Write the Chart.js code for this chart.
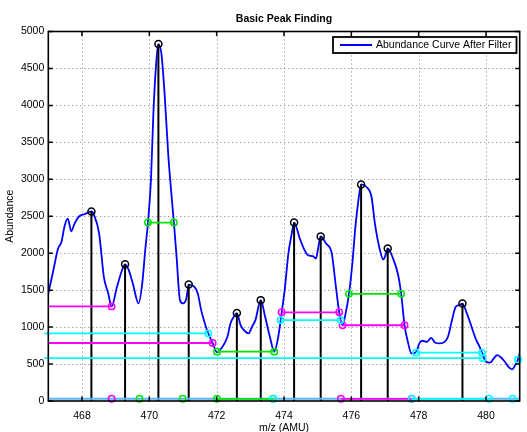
<!DOCTYPE html>
<html>
<head>
<meta charset="utf-8">
<title>Basic Peak Finding</title>
<script src="https://cdn.jsdelivr.net/npm/chart.js@4.4.1/dist/chart.umd.min.js"></script>
<style>
  html, body { margin: 0; padding: 0; background: #ffffff; }
  canvas { display: block; }
</style>
</head>
<body>
<canvas id="chart" width="527" height="432"></canvas>
<script>
// Filtered abundance curve (m/z in AMU, abundance in counts)
const mz = [
  467.00, 467.15, 467.29, 467.39, 467.49, 467.58, 467.68, 467.78, 467.92, 468.07,
  468.28, 468.36, 468.51, 468.65, 468.78, 468.88, 469.04, 469.19, 469.28, 469.39,
  469.51, 469.68, 469.79, 469.88, 469.96, 470.05, 470.12, 470.21, 470.27, 470.36,
  470.46, 470.56, 470.66, 470.73, 470.81, 470.91, 471.00, 471.10, 471.17, 471.34,
  471.44, 471.54, 471.68, 471.75, 471.88, 472.01, 472.17, 472.32, 472.41, 472.51,
  472.60, 472.71, 472.86, 472.95, 473.05, 473.15, 473.31, 473.44, 473.58, 473.71,
  473.83, 473.93, 474.02, 474.13, 474.23, 474.30, 474.47, 474.61, 474.71, 474.86,
  474.95, 475.02, 475.09, 475.25, 475.42, 475.53, 475.64, 475.74, 475.83, 475.93,
  476.03, 476.12, 476.21, 476.29, 476.45, 476.60, 476.70, 476.85, 476.95, 477.03,
  477.08, 477.22, 477.38, 477.48, 477.58, 477.69, 477.78, 477.92, 478.02, 478.11,
  478.25, 478.37, 478.49, 478.63, 478.77, 478.87, 478.99, 479.10, 479.20, 479.30,
  479.43, 479.57, 479.71, 479.81, 479.88, 480.00, 480.12, 480.23, 480.33, 480.42,
  480.56, 480.66, 480.77, 480.86, 480.93, 481.02
];
const abundance = [
  1455, 1770, 2063, 2153, 2378, 2468, 2297, 2401, 2500, 2527,
  2565, 2514, 2266, 1680, 1455, 1280, 1545, 1770, 1850, 1770,
  1590, 1320, 1590, 2050, 2415, 3000, 3887, 4608, 4830, 4698,
  4112, 3350, 2780, 2415, 1950, 1365, 1320, 1388, 1575, 1545,
  1455, 1230, 1005, 915, 785, 660, 734, 869, 1050, 1140,
  1190, 1027, 937, 915, 1005, 1095, 1365, 1140, 869, 670,
  869, 1195, 1500, 1995, 2266, 2415, 2198, 2041, 1973, 1959,
  1928, 2085, 2226, 2131, 1995, 1590, 1200, 1025, 1185, 1450,
  1861, 2355, 2716, 2930, 2896, 2761, 2401, 2041, 1915, 1995,
  2064, 1950, 1725, 1450, 1025, 780, 645, 660, 780, 815,
  801, 855, 788, 780, 801, 869, 1095, 1275, 1297, 1319,
  1185, 1005, 824, 734, 655, 531, 518, 577, 622, 599,
  531, 464, 428, 480, 540, 680
];

// Detected peaks
const peakMz = [468.28, 469.28, 470.27, 471.17, 472.60, 473.31, 474.30, 475.09, 476.29, 477.08, 479.30];
const peakAbundance = [2565, 1850, 4830, 1575, 1190, 1365, 2415, 2226, 2930, 2064, 1319];

// Peak width segments: [left m/z, right m/z, height]
const greenWidths = [[469.96, 470.73, 2415], [472.01, 473.71, 668], [475.93, 477.48, 1450]];
const magentaWidths = [[466.5, 468.88, 1280], [466.5, 471.88, 785], [473.93, 475.64, 1200], [475.74, 477.58, 1025]];
const cyanWidths = [[466.5, 471.75, 915], [466.5, 479.90, 580], [473.90, 475.68, 1095], [477.92, 479.88, 655], [480.95, 480.95, 560]];

// Valley markers along the base line: each group is joined by a line
const baselineLevel = 30;
const greenBase = [[469.71], [470.99], [472.01, 473.68]];
const magentaBase = [[468.88], [475.69, 477.79]];
const cyanBase = [[473.68], [477.79, 480.09], [480.79]];

// Axis ticks
const xTicks = [468, 470, 472, 474, 476, 478, 480];
const yTicks = [0, 500, 1000, 1500, 2000, 2500, 3000, 3500, 4000, 4500, 5000];

const FONT = "'Liberation Sans', Arial, Helvetica, sans-serif";
const BLUE = '#0000ff', GREEN = '#00e600', MAGENTA = '#ff00ff', CYAN = '#00ffff', BASE_BLUE = '#55b4ff';

function widthPoints(segments) {
  const pts = [];
  segments.forEach(([x1, x2, y]) => {
    pts.push({ x: x1, y: y }, { x: x2, y: y }, { x: x2, y: null });
  });
  return pts;
}
function basePoints(groups) {
  const pts = [];
  groups.forEach(g => {
    g.forEach(x => pts.push({ x: x, y: baselineLevel }));
    pts.push({ x: g[g.length - 1], y: null });
  });
  return pts;
}

const markerStyle = (color) => ({
  borderColor: color,
  backgroundColor: 'rgba(0,0,0,0)',
  pointBorderColor: color,
  pointBackgroundColor: 'rgba(0,0,0,0)',
  pointRadius: 3.2,
  pointBorderWidth: 1.5,
  borderWidth: 1.8,
  showLine: true,
  spanGaps: false
});

// Dotted grid, boxed frame with inward ticks, and the legend box
const axesFrame = {
  id: 'axesFrame',
  beforeDatasetsDraw(chart) {
    const { ctx, chartArea: a, scales: { x, y } } = chart;
    ctx.save();
    ctx.strokeStyle = 'rgba(0,0,0,0.5)';
    ctx.lineWidth = 1;
    ctx.setLineDash([1, 3]);
    ctx.beginPath();
    xTicks.forEach(v => {
      const p = Math.round(x.getPixelForValue(v)) + 0.5;
      ctx.moveTo(p, a.top); ctx.lineTo(p, a.bottom);
    });
    yTicks.forEach(v => {
      if (v === y.min || v === y.max) return;
      const p = Math.round(y.getPixelForValue(v)) + 0.5;
      ctx.moveTo(a.left, p); ctx.lineTo(a.right, p);
    });
    ctx.stroke();
    ctx.restore();
  },
  afterDatasetsDraw(chart) {
    const { ctx, chartArea: a, scales: { x, y } } = chart;
    const len = 4.5;
    ctx.save();
    ctx.strokeStyle = '#000';
    ctx.lineWidth = 1.5;
    ctx.beginPath();
    xTicks.forEach(v => {
      const p = x.getPixelForValue(v);
      ctx.moveTo(p, a.bottom); ctx.lineTo(p, a.bottom - len);
      ctx.moveTo(p, a.top); ctx.lineTo(p, a.top + len);
    });
    yTicks.forEach(v => {
      const p = y.getPixelForValue(v);
      ctx.moveTo(a.left, p); ctx.lineTo(a.left + len, p);
      ctx.moveTo(a.right, p); ctx.lineTo(a.right - len, p);
    });
    ctx.stroke();
    ctx.lineWidth = 1.6;
    ctx.strokeRect(a.left, a.top, a.right - a.left, a.bottom - a.top);
    ctx.restore();
  },
  afterDraw(chart) {
    const { ctx, chartArea: a } = chart;
    const ds = chart.data.datasets.find(d => d.legend);
    const boxRight = a.right - 3.2, boxLeft = boxRight - 183.5;
    const boxTop = a.top + 5.5, boxH = 16;
    ctx.save();
    ctx.fillStyle = '#fff';
    ctx.fillRect(boxLeft, boxTop, boxRight - boxLeft, boxH);
    ctx.strokeStyle = '#000';
    ctx.lineWidth = 1.8;
    ctx.strokeRect(boxLeft, boxTop, boxRight - boxLeft, boxH);
    const cy = boxTop + boxH / 2;
    ctx.strokeStyle = ds.borderColor;
    ctx.lineWidth = 2;
    ctx.beginPath();
    ctx.moveTo(boxLeft + 7, cy); ctx.lineTo(boxLeft + 39, cy);
    ctx.stroke();
    ctx.fillStyle = '#000';
    ctx.font = '10.5px ' + FONT;
    ctx.textBaseline = 'middle';
    ctx.textAlign = 'left';
    ctx.fillText(ds.label, boxLeft + 43, cy + 0.5);
    ctx.restore();
  }
};

new Chart(document.getElementById('chart'), {
  type: 'scatter',
  data: {
    datasets: [
      Object.assign({}, markerStyle(CYAN), { label: 'cyan widths', data: widthPoints(cyanWidths), order: 1, clip: 4 }),
      Object.assign({}, markerStyle(CYAN), { label: 'cyan valleys', data: basePoints(cyanBase), order: 1, clip: 6 }),
      Object.assign({}, markerStyle(MAGENTA), { label: 'magenta widths', data: widthPoints(magentaWidths), order: 2 }),
      Object.assign({}, markerStyle(MAGENTA), { label: 'magenta valleys', data: basePoints(magentaBase), order: 2, clip: 6 }),
      Object.assign({}, markerStyle(GREEN), { label: 'green widths', data: widthPoints(greenWidths), order: 3 }),
      Object.assign({}, markerStyle(GREEN), { label: 'green valleys', data: basePoints(greenBase), order: 3, clip: 6 }),
      {
        label: 'base line',
        data: [{ x: 467, y: baselineLevel }, { x: 481, y: baselineLevel }],
        borderColor: BASE_BLUE, borderWidth: 2, pointRadius: 0, showLine: true, order: 4
      },
      {
        label: 'peaks',
        data: peakMz.map((x, i) => ({ x: x, y: peakAbundance[i] })),
        pointRadius: 3.5, pointBorderWidth: 1.5, pointBorderColor: '#000',
        pointBackgroundColor: 'rgba(0,0,0,0)', showLine: false, order: 5
      },
      {
        label: 'stems',
        data: peakMz.flatMap((x, i) => [{ x: x, y: 0 }, { x: x, y: peakAbundance[i] }, { x: x, y: null }]),
        borderColor: '#000', borderWidth: 2, pointRadius: 0, showLine: true, spanGaps: false, order: 6
      },
      {
        label: 'Abundance Curve After Filter',
        legend: true,
        data: mz.map((x, i) => ({ x: x, y: abundance[i] })),
        borderColor: BLUE, borderWidth: 1.8, pointRadius: 0, showLine: true,
        cubicInterpolationMode: 'monotone', order: 7
      }
    ]
  },
  options: {
    responsive: false,
    animation: false,
    devicePixelRatio: 1,
    layout: { padding: { left: 0, right: 7.3, top: 0, bottom: 0 } },
    font: { family: FONT },
    plugins: {
      legend: { display: false },
      tooltip: { enabled: false },
      title: {
        display: true,
        text: 'Basic Peak Finding',
        fullSize: false,
        color: '#000',
        font: { family: FONT, size: 10.5, weight: 'bold', lineHeight: 1.2 },
        padding: { top: 12.5, bottom: 6.4 }
      }
    },
    scales: {
      x: {
        type: 'linear',
        min: 467, max: 481,
        grid: { display: false, drawTicks: false },
        border: { display: false },
        afterBuildTicks: (scale) => { scale.ticks = xTicks.map(v => ({ value: v })); },
        afterFit: (scale) => { scale.height = 31; },
        ticks: {
          autoSkip: false, maxRotation: 0, padding: 8.4, color: '#000',
          font: { family: FONT, size: 10.5, lineHeight: 1.2 },
          callback: (v) => String(v)
        },
        title: {
          display: true, text: 'm/z (AMU)', color: '#000',
          font: { family: FONT, size: 10.5, lineHeight: 1.2 },
          padding: { top: 0, bottom: -2.4 }
        }
      },
      y: {
        type: 'linear',
        min: 0, max: 5000,
        grid: { display: false, drawTicks: false },
        border: { display: false },
        afterBuildTicks: (scale) => { scale.ticks = yTicks.map(v => ({ value: v })); },
        afterFit: (scale) => { scale.width = 48.3; },
        ticks: {
          autoSkip: false, padding: 4, color: '#000',
          font: { family: FONT, size: 10.5, lineHeight: 1.2 },
          callback: (v) => String(v)
        },
        title: {
          display: true, text: 'Abundance', color: '#000',
          font: { family: FONT, size: 10.5, lineHeight: 1.2 },
          padding: { top: 3.8, bottom: 0 }
        }
      }
    }
  },
  plugins: [axesFrame]
});
</script>
</body>
</html>
